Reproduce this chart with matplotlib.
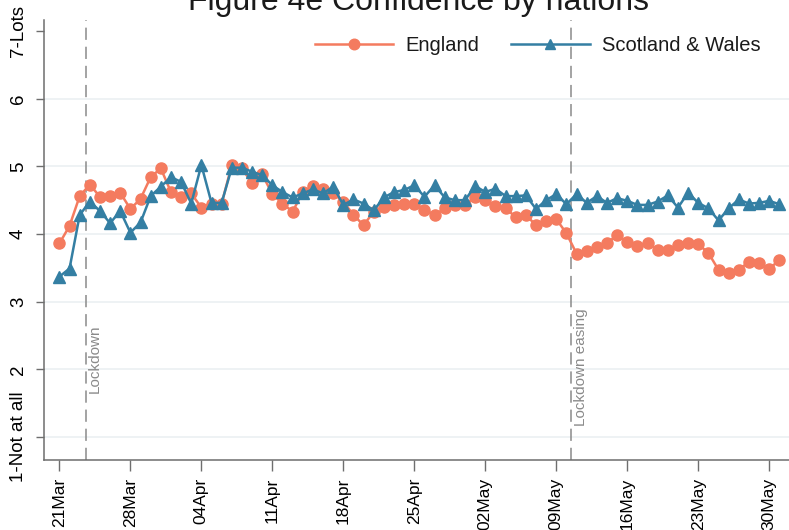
import numpy as np
import pandas as pd
import matplotlib
matplotlib.use("Agg")
import matplotlib.pyplot as plt
import matplotlib.dates as mdates

ENG_C, SCW_C = "#F47B5F", "#347FA3"
INK, GRID, AXIS, VLINE = "#1a1a1a", "#e9eff1", "#6e6e6e", "#8a8a8a"

dates = pd.date_range("2020-03-21", "2020-05-31", freq="D")
england = [3.86, 4.12, 4.56, 4.73, 4.55, 4.56, 4.61, 4.37, 4.52, 4.84,
           4.97, 4.62, 4.55, 4.60, 4.39, 4.45, 4.45, 5.02, 4.97, 4.75,
           4.88, 4.59, 4.45, 4.33, 4.62, 4.71, 4.67, 4.60, 4.48, 4.28,
           4.13, 4.33, 4.40, 4.43, 4.45, 4.45, 4.36, 4.28, 4.38, 4.43,
           4.43, 4.55, 4.50, 4.41, 4.38, 4.25, 4.28, 4.13, 4.19, 4.22,
           4.01, 3.71, 3.75, 3.81, 3.86, 3.99, 3.88, 3.83, 3.86, 3.77,
           3.76, 3.84, 3.87, 3.85, 3.72, 3.47, 3.43, 3.47, 3.59, 3.57, 3.49, 3.61]
scot_wales = [3.37, 3.49, 4.28, 4.48, 4.34, 4.16, 4.34, 4.02, 4.17, 4.56,
              4.70, 4.84, 4.77, 4.45, 5.02, 4.46, 4.46, 4.98, 4.98, 4.92,
              4.87, 4.72, 4.62, 4.54, 4.60, 4.66, 4.60, 4.70, 4.43, 4.51,
              4.45, 4.35, 4.54, 4.62, 4.65, 4.72, 4.55, 4.72, 4.54, 4.50,
              4.50, 4.71, 4.62, 4.67, 4.56, 4.56, 4.57, 4.37, 4.50, 4.59,
              4.44, 4.59, 4.46, 4.56, 4.46, 4.53, 4.49, 4.43, 4.43, 4.48,
              4.57, 4.39, 4.61, 4.46, 4.38, 4.20, 4.38, 4.51, 4.45, 4.46, 4.49, 4.44]

yticks = [1, 2, 3, 4, 5, 6, 7]
ylabels = ["1-Not at all", "2", "3", "4", "5", "6", "7-Lots"]
xticks = pd.date_range("2020-03-21", "2020-05-30", freq="7D")
events = [(pd.Timestamp("2020-03-23 14:00"), "Lockdown", 2.15),
          (pd.Timestamp("2020-05-10 12:00"), "Lockdown easing", 2.03)]

plt.rcParams.update({"font.family": ["Liberation Sans", "DejaVu Sans"], "text.color": INK})

fig = plt.figure(figsize=(7.89, 5.30), dpi=100)
ax = fig.add_axes([0.0555, 0.132, 0.9445, 0.830])

for y in yticks[:-1]:
    ax.axhline(y, color=GRID, lw=1.1, zorder=0)

for when, lab, ypos in events:
    ax.axvline(when, color=VLINE, lw=1.1, ls=(0, (8, 4.5)), zorder=1)
    ax.text(when + pd.Timedelta(hours=6), ypos, lab, rotation=90, ha="left", va="center",
            fontsize=11, color="#8a8a8a")

ax.plot(dates, england, color=ENG_C, lw=1.8, marker="o", ms=8, mec=ENG_C,
        label="England", zorder=3)
ax.plot(dates, scot_wales, color=SCW_C, lw=1.8, marker="^", ms=8, mec=SCW_C,
        label="Scotland & Wales", zorder=4)

x0 = mdates.date2num(pd.Timestamp("2020-03-21"))
ax.set_xlim(x0 - 1.54, x0 + 71.95)
ax.set_ylim(0.66, 7.16)

ax.set_xticks(xticks)
ax.xaxis.set_major_formatter(mdates.DateFormatter("%d%b"))
ax.tick_params(axis="x", rotation=90, labelsize=12.5, length=8, width=1, color=AXIS, pad=5)
ax.set_yticks(yticks)
ax.set_yticklabels(ylabels, rotation=90, va="center", fontsize=13.5)
ax.tick_params(axis="y", length=6, width=1, color=AXIS, pad=6)

for s in ["top", "right"]:
    ax.spines[s].set_visible(False)
for s in ["left", "bottom"]:
    ax.spines[s].set_color(AXIS)
    ax.spines[s].set_linewidth(1.1)

ax.legend(loc="center", bbox_to_anchor=(0.6625, 0.943), ncol=2, frameon=False,
          fontsize=14.5, handlelength=3.9, handletextpad=0.6, columnspacing=1.6,
          markerscale=0.95)

fig.text(0.53, 0.982, "Figure 4e Confidence by nations", ha="center", va="baseline",
         fontsize=23, color=INK)

fig.savefig("out.png", dpi=100, facecolor="white")
